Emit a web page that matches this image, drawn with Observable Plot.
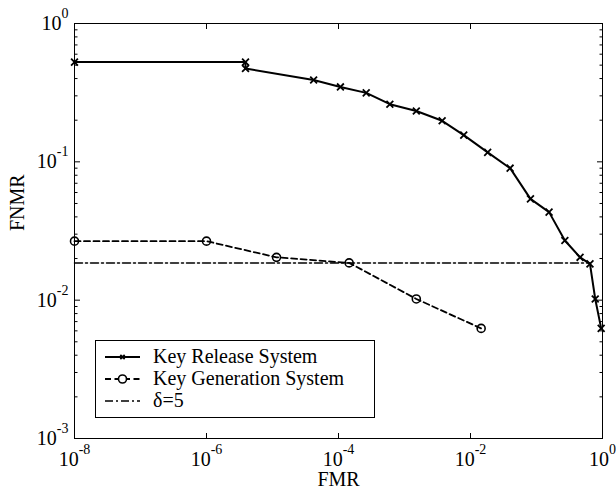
<!DOCTYPE html>
<html><head><meta charset="utf-8">
<script src="https://cdn.jsdelivr.net/npm/d3@7"></script>
<script src="https://cdn.jsdelivr.net/npm/@observablehq/plot@0.6"></script>
<style>body{margin:0;background:#fff}</style>
</head><body><div id="chart"></div>
<script>
// Key Release System
const releaseFMR  = [1e-8, 3.9e-6, 3.9e-6, 4.2e-5, 1.07e-4, 2.63e-4, 6.0e-4, 1.51e-3, 3.72e-3, 7.9e-3, 1.82e-2, 3.98e-2, 8.1e-2, 0.155, 0.269, 0.457, 0.646, 0.776, 0.955];
const releaseFNMR = [0.526, 0.526, 0.473, 0.39, 0.348, 0.315, 0.261, 0.233, 0.198, 0.156, 0.117, 0.090, 0.054, 0.0433, 0.027, 0.0204, 0.0183, 0.0102, 0.00625];
// Key Generation System
const genFMR  = [1e-8, 1e-6, 1.15e-5, 1.45e-4, 1.51e-3, 1.45e-2];
const genFNMR = [0.0267, 0.0267, 0.0204, 0.0186, 0.0102, 0.00625];
// delta = 5 threshold line
const deltaFMR  = [1e-8, 0.646];
const deltaFNMR = [0.0186, 0.0186];

const seriesNames = ["Key Release System", "Key Generation System", "δ=5"];
const xTicks = [1e-8, 1e-6, 1e-4, 1e-2, 1];
const yTicks = [1e-3, 1e-2, 1e-1, 1];
const yMinorMultipliers = [2, 3, 4, 5, 6, 7, 8, 9];
const xLabel = "FMR";
const yLabel = "FNMR";

const yMinor = yTicks.slice(0, -1).flatMap(d => yMinorMultipliers.map(m => d * m));
const toRows = (xs, ys) => xs.map((x, i) => ({x, y: ys[i]}));
const release = toRows(releaseFMR, releaseFNMR);
const gen = toRows(genFMR, genFNMR);
const delta = toRows(deltaFMR, deltaFNMR);
const expFmt = d => "10^" + Math.round(Math.log10(d));
const noFmt = () => "";

const FONT = '"Liberation Serif", "Times New Roman", serif';
const GEN_DASH = "6,3.5";
const DELTA_DASH = "8,3,2,3";

const chart = Plot.plot({
  width: 616, height: 497,
  marginLeft: 74, marginRight: 14, marginTop: 23, marginBottom: 59,
  style: {fontFamily: FONT, fontSize: "20px", background: "white", color: "black"},
  x: {type: "log", domain: [1e-8, 1], axis: null},
  y: {type: "log", domain: [1e-3, 1], axis: null},
  marks: [
    Plot.axisX({anchor: "bottom", ticks: xTicks, tickSize: -5, tickFormat: noFmt, label: null}),
    Plot.axisX({anchor: "top", ticks: xTicks, tickSize: -5, tickFormat: noFmt, label: null}),
    Plot.axisY({anchor: "left", ticks: yTicks, tickSize: -6, tickFormat: noFmt, label: null}),
    Plot.axisY({anchor: "right", ticks: yTicks, tickSize: -6, tickFormat: noFmt, label: null}),
    Plot.axisY({anchor: "left", ticks: yMinor, tickSize: -3.5, tickFormat: noFmt, label: null}),
    Plot.axisY({anchor: "right", ticks: yMinor, tickSize: -3.5, tickFormat: noFmt, label: null}),
    Plot.axisX({anchor: "bottom", ticks: xTicks, tickSize: 0, tickPadding: 13, tickFormat: expFmt, label: null}),
    Plot.axisY({anchor: "left", ticks: yTicks, tickSize: 0, tickPadding: 6, tickFormat: expFmt, label: null}),
    Plot.frame({stroke: "black", strokeWidth: 1}),
    Plot.line(delta, {x: "x", y: "y", stroke: "black", strokeWidth: 1.5, strokeDasharray: DELTA_DASH}),
    Plot.line(gen, {x: "x", y: "y", stroke: "black", strokeWidth: 1.8, strokeDasharray: GEN_DASH}),
    Plot.dot(gen, {x: "x", y: "y", r: 4, stroke: "black", strokeWidth: 1.6, fill: "none"}),
    Plot.line(release, {x: "x", y: "y", stroke: "black", strokeWidth: 2}),
    Plot.dot(release, {x: "x", y: "y", symbol: "times", r: 3.2, stroke: "black", strokeWidth: 1.8}),
    Plot.text([xLabel], {frameAnchor: "bottom", dy: 47, fontSize: 20}),
    Plot.text([yLabel], {frameAnchor: "left", dx: -57, rotate: -90, fontSize: 20})
  ]
});

// superscript exponents on tick labels
chart.querySelectorAll('g[aria-label="x-axis tick label"] text, g[aria-label="y-axis tick label"] text').forEach(t => {
  const s = t.textContent;
  if (!s.includes("^")) return;
  const [b, e] = s.split("^");
  t.textContent = "";
  const ns = "http://www.w3.org/2000/svg";
  const t1 = document.createElementNS(ns, "tspan"); t1.textContent = b; t.appendChild(t1);
  const t2 = document.createElementNS(ns, "tspan"); t2.textContent = e;
  t2.setAttribute("dy", "-12"); t2.setAttribute("font-size", "14"); t.appendChild(t2);
});

// legend box inside the plot
const svg = d3.select(chart);
const lg = svg.append("g").attr("font-family", FONT).attr("font-size", 20).attr("text-anchor", "start");
lg.append("rect").attr("x", 95.5).attr("y", 340.5).attr("width", 279).attr("height", 77)
  .attr("fill", "white").attr("stroke", "black").attr("stroke-width", 1);
const rowsY = [357, 379, 401];
const styles = [
  {dash: null, sw: 2, sym: "times"},
  {dash: GEN_DASH, sw: 1.8, sym: "circle"},
  {dash: DELTA_DASH, sw: 1.5, sym: null}
];
seriesNames.forEach((name, i) => {
  const y = rowsY[i], st = styles[i];
  lg.append("line").attr("x1", 105).attr("x2", 140).attr("y1", y).attr("y2", y)
    .attr("stroke", "black").attr("stroke-width", st.sw).attr("stroke-dasharray", st.dash);
  if (st.sym === "times") {
    lg.append("path").attr("transform", `translate(122.5,${y})`)
      .attr("d", d3.symbol(d3.symbolTimes, 14)()).attr("stroke", "black").attr("stroke-width", 1.8).attr("fill", "none");
  } else if (st.sym === "circle") {
    lg.append("circle").attr("cx", 122.5).attr("cy", y).attr("r", 4)
      .attr("stroke", "black").attr("stroke-width", 1.6).attr("fill", "white");
  }
  lg.append("text").attr("x", 153).attr("y", y).attr("dy", "0.32em").attr("fill", "black").text(name);
});

document.getElementById("chart").appendChild(chart);
</script>
</body></html>
